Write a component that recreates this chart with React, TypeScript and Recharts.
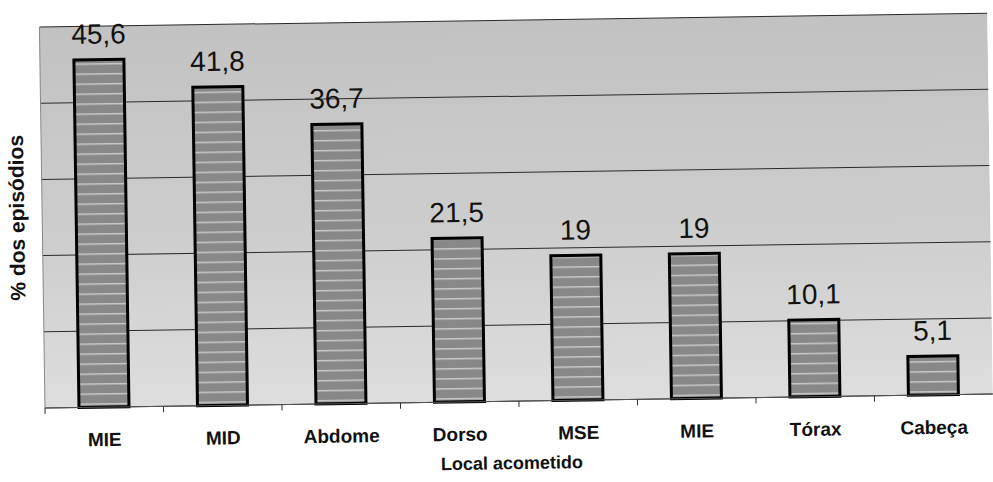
import React from 'react';
import {
  BarChart,
  Bar,
  XAxis,
  YAxis,
  CartesianGrid,
  LabelList,
  Label,
} from 'recharts';

const locais = ['MIE', 'MID', 'Abdome', 'Dorso', 'MSE', 'MIE', 'Tórax', 'Cabeça'];
const percentuais = [45.6, 41.8, 36.7, 21.5, 19, 19, 10.1, 5.1];
const yTicks = [0, 10, 20, 30, 40, 50];

const data = locais.map((local, i) => ({ local, valor: percentuais[i] }));

const font = '"Liberation Sans", Arial, sans-serif';

const formatValor = (v: any) => String(v).replace('.', ',');

// category label plus a small tick at the left boundary of each category
const LocalTick = (props: any) => {
  const { x, y, payload, width, visibleTicksCount } = props;
  const step = width && visibleTicksCount ? width / visibleTicksCount : 118.5;
  const left = x - step / 2;
  return (
    <g>
      <line x1={left} y1={y} x2={left} y2={y + 6} stroke="#333" strokeWidth={1} />
      <text
        x={x}
        y={y + 39}
        textAnchor="middle"
        fontFamily={font}
        fontWeight="bold"
        fontSize={19}
        fill="#111"
      >
        {payload.value}
      </text>
    </g>
  );
};

const NoTick = () => <g />;

const App: React.FC = () => {
  return (
    <div
      style={{
        position: 'absolute',
        left: 0,
        top: 0,
        width: 993,
        height: 482,
        background: '#fff',
        transform: 'rotate(-0.84deg)',
        transformOrigin: '45px 408px',
      }}
    >
      <svg width={0} height={0} style={{ position: 'absolute' }}>
        <defs>
          <linearGradient id="fundo" x1="0" y1="0" x2="0" y2="1">
            <stop offset="0%" stopColor="#c2c2c2" />
            <stop offset="55%" stopColor="#cdcdcd" />
            <stop offset="100%" stopColor="#dedede" />
          </linearGradient>
          <pattern id="listras" width={8} height={10} patternUnits="userSpaceOnUse">
            <rect width={8} height={10} fill="#888888" />
            <rect y={4} width={8} height={1.5} fill="#c8c8c8" />
          </pattern>
        </defs>
      </svg>
      <BarChart
        width={993}
        height={482}
        data={data}
        margin={{ top: 27, right: 0, left: 0, bottom: 0 }}
      >
        <CartesianGrid
          vertical={false}
          stroke="#2a2a2a"
          strokeWidth={1}
          fill="url(#fundo)"
          fillOpacity={1}
        />
        <XAxis
          dataKey="local"
          height={74}
          tickLine={false}
          tickSize={0}
          tickMargin={0}
          axisLine={{ stroke: '#555', strokeWidth: 1 }}
          tick={<LocalTick />}
          interval={0}
        >
          <Label
            value="Local acometido"
            position="insideBottom"
            offset={6}
            dx={-8}
            style={{ fontFamily: font, fontWeight: 'bold', fontSize: 18, fill: '#111' }}
          />
        </XAxis>
        <YAxis
          width={45}
          domain={[0, 50]}
          ticks={yTicks}
          tick={<NoTick />}
          tickLine={false}
          axisLine={{ stroke: '#888', strokeWidth: 1 }}
        >
          <Label
            value="% dos episódios"
            angle={-90}
            position="center"
            dx={-3}
            style={{ fontFamily: font, fontWeight: 'bold', fontSize: 21, fill: '#111', textAnchor: 'middle' }}
          />
        </YAxis>
        <Bar
          dataKey="valor"
          barSize={50}
          fill="url(#listras)"
          stroke="#000"
          strokeWidth={3}
          isAnimationActive={false}
        >
          <LabelList
            dataKey="valor"
            position="top"
            offset={16}
            formatter={formatValor}
            style={{ fontFamily: font, fontSize: 28, fill: '#111' }}
          />
        </Bar>
      </BarChart>
    </div>
  );
};

export default App;
